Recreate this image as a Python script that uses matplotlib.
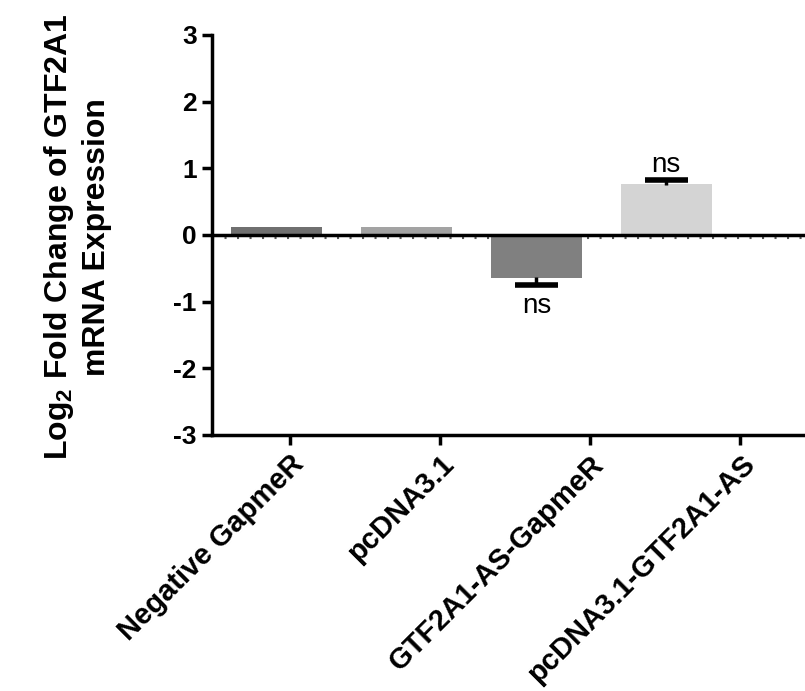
import numpy as np
import matplotlib.pyplot as plt

plt.rcParams['font.family'] = ['Liberation Sans', 'DejaVu Sans']
plt.rcParams['axes.unicode_minus'] = False

groups = ['Negative GapmeR', 'pcDNA3.1', 'GTF2A1-AS-GapmeR', 'pcDNA3.1-GTF2A1-AS']
log2fc = [0.12, 0.12, -0.65, 0.77]
err_lo = [0.0, 0.0, 0.10, 0.0]
err_hi = [0.0, 0.0, 0.0, 0.05]
colors = ['#707070', '#a3a3a3', '#808080', '#d4d4d4']
sig = ['', '', 'ns', 'ns']

bar_x = np.arange(len(groups))
tick_x = [0.10, 1.257, 2.414, 3.571]

fig = plt.figure(figsize=(8.05, 6.91), dpi=100)
ax = fig.add_axes([212 / 805, 1 - 435 / 691, 1 - 212 / 805, 400 / 691])

ax.bar(bar_x, log2fc, width=0.70, color=colors, zorder=2)

# one-sided SEM bars: stem away from the bar, cap at the far end only
cap = 0.165
for x, v, lo, hi in zip(bar_x, log2fc, err_lo, err_hi):
    if hi:
        ax.vlines(x, v - 0.02, v + hi, color='black', lw=2.5, zorder=3)
        ax.hlines(v + hi, x - cap, x + cap, color='black', lw=4, zorder=3)
    if lo:
        ax.vlines(x, v + 0.02, v - lo, color='black', lw=2.5, zorder=3)
        ax.hlines(v - lo, x - cap, x + cap, color='black', lw=4, zorder=3)

# baseline at zero: solid rule with a dotted guide just beneath
ax.axhline(0, color='black', lw=2.5, zorder=4)
ax.axhline(-0.05, color='#555555', lw=1.5, ls=(0, (1, 5)), zorder=1)

for x, v, lo, hi, s in zip(bar_x, log2fc, err_lo, err_hi, sig):
    if not s:
        continue
    if v >= 0:
        ax.text(x, v + hi + 0.03, s, ha='center', va='bottom', fontsize=20)
    else:
        ax.text(x, v - lo - 0.12, s, ha='center', va='top', fontsize=20)

ax.set_xlim(-0.5, 4.07)
ax.set_ylim(-3, 3)
ax.set_yticks(np.arange(-3, 4, 1))
ax.set_xticks(tick_x)
ax.set_xticklabels(groups, rotation=45, ha='right', va='top',
                   rotation_mode='anchor', fontsize=21, fontweight='bold')
for lbl in ax.get_yticklabels():
    lbl.set_fontsize(19)
    lbl.set_fontweight('bold')

for side in ('top', 'right'):
    ax.spines[side].set_visible(False)
for side in ('left', 'bottom'):
    ax.spines[side].set_linewidth(2.5)
ax.tick_params(axis='both', length=7, width=2.5, pad=4)

fig.text(77 / 805, 1 - 237 / 691,
         'Log$_\\mathregular{2}$ Fold Change of GTF2A1\nmRNA Expression',
         rotation=90, ha='center', va='center', multialignment='center',
         fontsize=23, fontweight='bold', linespacing=1.3)

fig.savefig('out.png', dpi=100)
